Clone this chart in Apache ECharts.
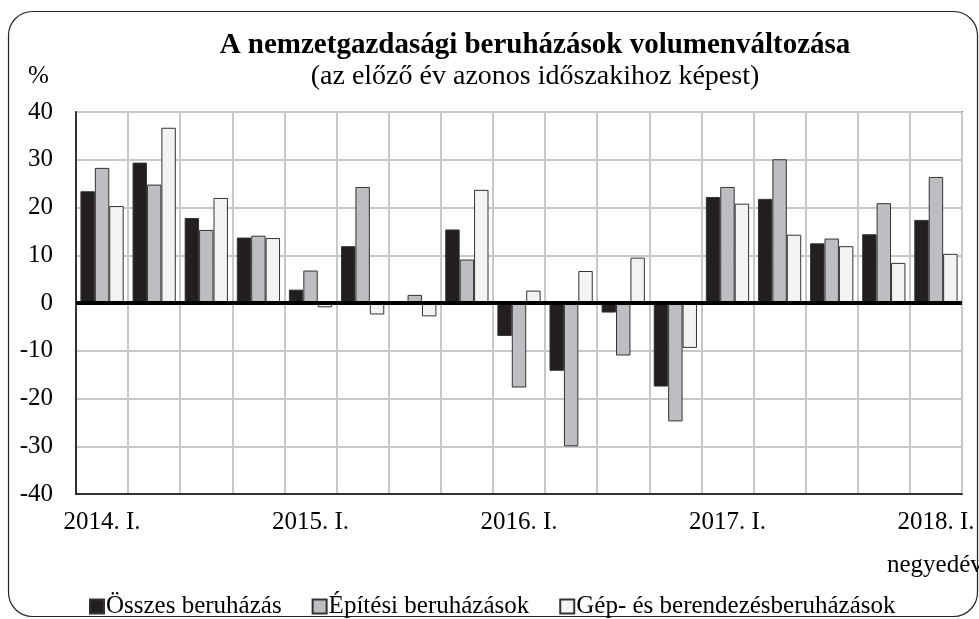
<!DOCTYPE html>
<html>
<head>
<meta charset="utf-8">
<script src="https://cdn.jsdelivr.net/npm/echarts@6/dist/echarts.min.js"></script>
<style>
  html, body { margin: 0; padding: 0; background: #fff; }
  #chart { width: 979px; height: 619px; }
</style>
</head>
<body>
<div id="chart"></div>
<script>
// negyedévek 2014. I. - 2018. I.
var quarters = ['2014. I.', 'II.', 'III.', 'IV.',
                '2015. I.', 'II.', 'III.', 'IV.',
                '2016. I.', 'II.', 'III.', 'IV.',
                '2017. I.', 'II.', 'III.', 'IV.',
                '2018. I.'];
var osszes  = [23.4, 29.4, 17.8, 13.7, 2.8, 11.9, -0.3, 15.4, -6.9, -14.2, -2.0, -17.5, 22.2, 21.8, 12.5, 14.4, 17.4];
var epitesi = [28.3, 24.8, 15.3, 14.1, 6.8, 24.3, 1.7, 9.1, -17.7, -30.0, -11.0, -24.8, 24.3, 30.1, 13.5, 20.9, 26.4];
var gep     = [20.3, 36.7, 22.0, 13.6, -0.9, -2.4, -2.8, 23.7, 2.6, 6.7, 9.5, -9.4, 20.8, 14.3, 11.9, 8.4, 10.3];
var seriesNames = ['Összes beruházás', 'Építési beruházások', 'Gép- és berendezésberuházások'];

var font = '"Liberation Serif", "DejaVu Serif", serif';

function barSeries(name, data, color) {
  return {
    name: name,
    type: 'bar',
    data: data,
    barGap: 0,
    barCategoryGap: '17%',
    itemStyle: { color: color, borderColor: '#333', borderWidth: 1 }
  };
}

var series = [
  barSeries(seriesNames[0], osszes, '#231f20'),
  barSeries(seriesNames[1], epitesi, '#bdbec1'),
  barSeries(seriesNames[2], gep, '#f2f3f2')
];
// vastag nulla vonal
series[2].markLine = {
  silent: true,
  symbol: 'none',
  label: { show: false },
  lineStyle: { color: '#000', width: 4, type: 'solid' },
  data: [{ yAxis: 0 }]
};

var chart = echarts.init(document.getElementById('chart'));
chart.setOption({
  animation: false,
  backgroundColor: '#fff',
  textStyle: { fontFamily: font },
  title: {
    text: 'A nemzetgazdasági beruházások volumenváltozása',
    subtext: '(az előző év azonos időszakihoz képest)',
    left: 530,
    top: 26,
    textAlign: 'center',
    itemGap: 3,
    textStyle: { fontFamily: font, fontSize: 29, fontWeight: 'bold', color: '#000' },
    subtextStyle: { fontFamily: font, fontSize: 28, color: '#000' }
  },
  graphic: [
    {
      type: 'rect',
      shape: { x: 8.5, y: 11.5, width: 969, height: 605, r: 24 },
      style: { fill: 'none', stroke: '#222', lineWidth: 1.2 },
      silent: true
    },
    {
      type: 'text', left: 28, top: 64,
      style: { text: '%', font: '25px ' + font, fill: '#000' }
    },
    {
      type: 'text', left: 887, top: 553,
      style: { text: 'negyedév', font: '25px ' + font, fill: '#000' }
    }
  ],
  legend: {
    data: seriesNames,
    left: 84,
    top: 589,
    icon: 'rect',
    itemWidth: 14,
    itemHeight: 14,
    itemGap: 30,
    textStyle: { fontFamily: font, fontSize: 25, color: '#000', padding: [0, 0, 0, -3] }
  },
  grid: {
    left: 76, right: 17, top: 112, bottom: 125,
    show: true, borderColor: '#000', borderWidth: 1.5,
    containLabel: false
  },
  xAxis: {
    type: 'category',
    data: quarters,
    axisLine: { onZero: false, lineStyle: { color: '#000', width: 1.5 } },
    axisTick: { show: false },
    axisLabel: { interval: 3, margin: 16, fontSize: 25, color: '#000', fontFamily: font },
    splitLine: { show: true, interval: 0, lineStyle: { color: '#c8c8cc', width: 2 } }
  },
  yAxis: {
    type: 'value',
    min: -40, max: 40, interval: 10,
    axisLine: { show: true, lineStyle: { color: '#000', width: 1.5 } },
    axisTick: { show: false },
    axisLabel: { margin: 23, fontSize: 25, color: '#000', fontFamily: font },
    splitLine: { show: true, lineStyle: { color: '#c8c8cc', width: 2 } }
  },
  series: series
});
</script>
</body>
</html>
